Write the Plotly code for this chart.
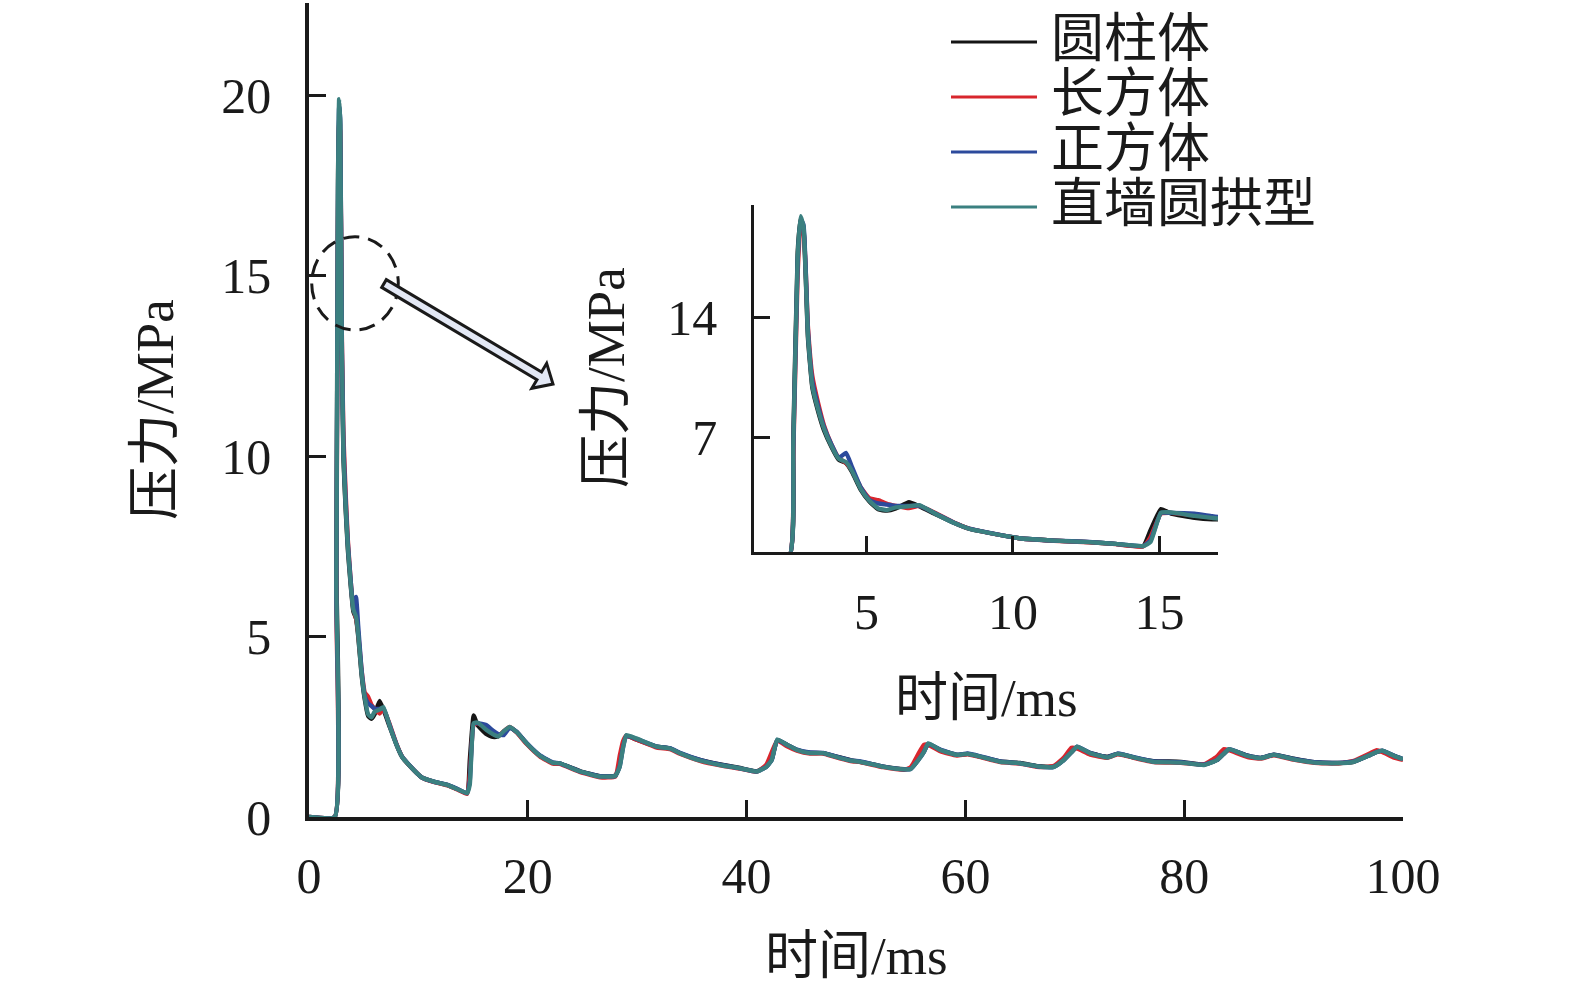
import math
import plotly.graph_objects as go

# ---------------- data ----------------
time_ms = [0, 2.35, 2.5, 2.65, 2.75, 2.85, 3.0, 3.15, 3.35, 3.55,
           3.8, 4.05, 4.3, 4.5, 4.8, 5.1, 5.4, 5.7, 6.0, 6.45,
           6.8, 7.4, 8.0, 8.5, 9.2, 10.3, 11.4, 12.6, 13.5, 14.45,
           14.7, 15.05, 15.4, 16.2, 16.8, 17.3, 17.8, 18.35, 19.0, 19.9,
           21.1, 22.3, 22.9, 24.8, 26.6, 28.0, 28.4, 28.7, 29.0, 29.9,
           31.8, 33.0, 33.9, 35.8, 37.6, 39.4, 40.9, 41.8, 42.3, 42.8,
           43.7, 44.6, 45.8, 47.0, 47.9, 49.5, 50.4, 52.5, 54.4, 55.0,
           55.7, 56.2, 56.6, 57.7, 59.2, 60.2, 61.4, 63.2, 65.0, 66.9,
           68.1, 69.0, 69.7, 70.2, 71.4, 73.0, 73.9, 74.5, 75.4, 77.2,
           79.7, 81.8, 83.0, 83.6, 84.1, 85.8, 87.0, 88.2, 90.0, 91.9,
           94.0, 95.5, 97.0, 97.6, 98.1, 99.2, 100.0]

# 圆柱体
p_cylinder = [0, 0, 7.0, 17.8, 19.8, 19.2, 12.8, 9.9, 8.5, 7.4,
              6.45, 5.7, 5.5, 5.0, 3.95, 3.25, 2.8, 2.72, 2.85, 3.22,
              2.98, 2.48, 2.0, 1.67, 1.42, 1.1, 0.98, 0.89, 0.78, 0.66,
              1.6, 2.82, 2.55, 2.3, 2.22, 2.24, 2.36, 2.48, 2.35, 2.04,
              1.7, 1.5, 1.49, 1.27, 1.13, 1.15, 1.45, 2.0, 2.25, 2.15,
              1.95, 1.9, 1.77, 1.58, 1.46, 1.36, 1.27, 1.4, 1.6, 2.13,
              2.0, 1.86, 1.78, 1.77, 1.7, 1.58, 1.53, 1.4, 1.33, 1.34,
              1.6, 1.82, 2.02, 1.86, 1.72, 1.75, 1.67, 1.54, 1.5, 1.4,
              1.4, 1.59, 1.8, 1.94, 1.77, 1.67, 1.75, 1.72, 1.65, 1.55,
              1.53, 1.45, 1.58, 1.75, 1.87, 1.7, 1.64, 1.73, 1.62, 1.52,
              1.5, 1.53, 1.72, 1.8, 1.83, 1.69, 1.6]

# 长方体
p_cuboid = [0, 0, 5.8, 16.5, 19.2, 19.0, 13.5, 10.6, 9.0, 7.7,
            6.6, 5.8, 5.5, 5.1, 4.1, 3.45, 3.34, 3.12, 3.0, 2.87,
            3.0, 2.55, 2.02, 1.68, 1.42, 1.1, 0.97, 0.88, 0.77, 0.64,
            1.2, 2.55, 2.6, 2.45, 2.32, 2.24, 2.38, 2.5, 2.34, 2.02,
            1.68, 1.48, 1.47, 1.24, 1.1, 1.12, 1.7, 2.1, 2.25, 2.15,
            1.92, 1.88, 1.75, 1.55, 1.43, 1.34, 1.25, 1.45, 1.8, 2.12,
            1.96, 1.84, 1.76, 1.76, 1.68, 1.55, 1.52, 1.38, 1.31, 1.38,
            1.75, 2.0, 2.0, 1.82, 1.7, 1.74, 1.66, 1.52, 1.48, 1.38,
            1.42, 1.65, 1.92, 1.9, 1.73, 1.64, 1.74, 1.71, 1.64, 1.52,
            1.5, 1.46, 1.68, 1.88, 1.85, 1.66, 1.62, 1.71, 1.59, 1.5,
            1.48, 1.56, 1.77, 1.85, 1.8, 1.64, 1.58]

# 正方体
p_cube = [0, 0, 6.2, 17.2, 19.7, 19.4, 13.3, 10.3, 8.8, 7.6,
          6.6, 5.8, 6.1, 5.3, 4.1, 3.35, 3.15, 3.08, 3.0, 3.0,
          3.02, 2.52, 2.01, 1.68, 1.43, 1.1, 0.98, 0.9, 0.79, 0.66,
          1.0, 2.58, 2.6, 2.55, 2.4, 2.3, 2.27, 2.48, 2.36, 2.05,
          1.71, 1.51, 1.49, 1.26, 1.13, 1.14, 1.4, 1.92, 2.25, 2.17,
          1.95, 1.91, 1.78, 1.58, 1.45, 1.35, 1.26, 1.39, 1.58, 2.14,
          2.0, 1.87, 1.79, 1.78, 1.7, 1.57, 1.54, 1.4, 1.32, 1.33,
          1.58, 1.8, 2.03, 1.87, 1.73, 1.76, 1.68, 1.54, 1.49, 1.39,
          1.39, 1.58, 1.8, 1.95, 1.78, 1.66, 1.76, 1.73, 1.66, 1.54,
          1.52, 1.45, 1.58, 1.75, 1.88, 1.7, 1.64, 1.73, 1.61, 1.52,
          1.5, 1.54, 1.72, 1.8, 1.84, 1.7, 1.61]

# 直墙圆拱型
p_arch = [0, 0, 6.5, 17.5, 19.9, 19.3, 13.0, 10.0, 8.6, 7.5,
          6.5, 5.75, 5.55, 5.05, 4.0, 3.3, 2.85, 2.76, 2.92, 2.98,
          3.05, 2.5, 2.0, 1.67, 1.42, 1.1, 0.98, 0.89, 0.78, 0.66,
          0.9, 2.6, 2.62, 2.42, 2.3, 2.23, 2.38, 2.5, 2.35, 2.04,
          1.7, 1.5, 1.49, 1.26, 1.12, 1.14, 1.39, 1.9, 2.27, 2.18,
          1.95, 1.9, 1.77, 1.56, 1.44, 1.35, 1.26, 1.39, 1.58, 2.15,
          2.0, 1.86, 1.77, 1.77, 1.69, 1.56, 1.53, 1.39, 1.32, 1.33,
          1.58, 1.8, 2.04, 1.86, 1.72, 1.75, 1.67, 1.53, 1.49, 1.39,
          1.39, 1.58, 1.8, 1.95, 1.77, 1.65, 1.75, 1.72, 1.65, 1.53,
          1.51, 1.44, 1.58, 1.75, 1.88, 1.69, 1.63, 1.72, 1.6, 1.51,
          1.49, 1.53, 1.72, 1.8, 1.84, 1.69, 1.6]

series_names = ["圆柱体", "长方体", "正方体", "直墙圆拱型"]
series_values = [p_cylinder, p_cuboid, p_cube, p_arch]
series_colors = ["#151515", "#d8262d", "#2c4a9c", "#3b8080"]

main_x_ticks = [0, 20, 40, 60, 80, 100]
main_y_ticks = [0, 5, 10, 15, 20]
inset_x_ticks = [5, 10, 15]
inset_y_ticks = [7, 14]
x_title = "时间/ms"
y_title = "压力/MPa"

# ---------------- layout geometry ----------------
W, H = 1575, 998
ML, MR, MT, MB = 309, 172, 3, 181
PW = W - ML - MR
PH = H - MT - MB
BASE = H - MB


def px(xp):
    return (xp - ML) / PW


def py(yp):
    return (BASE - yp) / PH


FONT = "Liberation Serif, Noto Sans CJK SC, serif"
INK = "#1a1a1a"
LW = 4.3

fig = go.Figure()
for xa, ya in (("x", "y"), ("x2", "y2")):
    for name, vals, col in zip(series_names, series_values, series_colors):
        fig.add_trace(go.Scatter(x=time_ms, y=vals, mode="lines", name=name,
                                 line=dict(color=col, width=LW,
                                           shape="spline", smoothing=0.4),
                                 xaxis=xa, yaxis=ya, showlegend=False))

axis_common = dict(showline=True, linecolor=INK, ticks="inside",
                   tickcolor=INK, showgrid=False, zeroline=False,
                   tickfont=dict(family=FONT, size=50, color=INK),
                   fixedrange=True)

fig.update_layout(
    width=W, height=H,
    margin=dict(l=ML, r=MR, t=MT, b=MB, pad=0),
    paper_bgcolor="white", plot_bgcolor="white",
    showlegend=False,
    font=dict(family=FONT, color=INK),
    xaxis=dict(domain=[0, 1], range=[0, 100], tickvals=main_x_ticks,
               linewidth=3.5, ticklen=17, tickwidth=2.5, anchor="y",
               ticklabelstandoff=12, **axis_common),
    yaxis=dict(domain=[0, 1], range=[0, (BASE - MT) / 36.07],
               tickvals=main_y_ticks, linewidth=3.5, ticklen=17,
               tickwidth=3, anchor="x", ticklabelstandoff=24,
               **axis_common),
    xaxis2=dict(domain=[px(754.3), px(1218)], range=[1.17, 17.0],
                tickvals=inset_x_ticks, linewidth=3, ticklen=16,
                tickwidth=3, anchor="y2", ticklabelstandoff=14,
                **axis_common),
    yaxis2=dict(domain=[py(551.7), py(205)], range=[0.33, 20.55],
                tickvals=inset_y_ticks, linewidth=3, ticklen=16,
                tickwidth=3, anchor="x2", ticklabelstandoff=24,
                **axis_common),
)

annotations = []
title_font = dict(family=FONT, size=53, color=INK)
annotations.append(dict(text=x_title, xref="paper", yref="paper",
                        x=px(856), y=py(956), xanchor="center",
                        yanchor="middle", showarrow=False, font=title_font))
annotations.append(dict(text=y_title, xref="paper", yref="paper",
                        x=px(155), y=py(410), xanchor="center",
                        yanchor="middle", showarrow=False, textangle=-90,
                        font=title_font))
annotations.append(dict(text=x_title, xref="paper", yref="paper",
                        x=px(986), y=py(698), xanchor="center",
                        yanchor="middle", showarrow=False, font=title_font))
annotations.append(dict(text=y_title, xref="paper", yref="paper",
                        x=px(606), y=py(378), xanchor="center",
                        yanchor="middle", showarrow=False, textangle=-90,
                        font=title_font))

shapes = []
# hand-drawn legend
leg_rows = [42, 97, 152, 207]
for name, col, yrow in zip(series_names, series_colors, leg_rows):
    shapes.append(dict(type="line", xref="paper", yref="paper",
                       x0=px(951), x1=px(1037), y0=py(yrow), y1=py(yrow),
                       line=dict(color=col, width=3)))
    annotations.append(dict(text=name, xref="paper", yref="paper",
                            x=px(1049), y=py(yrow - 3), xanchor="left",
                            yanchor="middle", showarrow=False,
                            font=dict(family=FONT, size=53, color=INK)))

# dashed circle around the peak
shapes.append(dict(type="circle", xref="paper", yref="paper",
                   x0=px(311.7), x1=px(398.3), y0=py(330), y1=py(236.7),
                   line=dict(color=INK, width=3, dash="16px,9px")))

# block arrow from the circle to the inset
sx, sy = 384.0, 283.5
tx, ty = 553.0, 384.0
L = math.hypot(tx - sx, ty - sy)
ux, uy = (tx - sx) / L, (ty - sy) / L
nx, ny = -uy, ux
hw, hh, hl = 4.5, 14.5, 16.0
hx, hy = tx - hl * ux, ty - hl * uy
pts = [(sx + hw * nx, sy + hw * ny), (hx + hw * nx, hy + hw * ny),
       (hx + hh * nx, hy + hh * ny), (tx, ty),
       (hx - hh * nx, hy - hh * ny), (hx - hw * nx, hy - hw * ny),
       (sx - hw * nx, sy - hw * ny)]
path = "M " + " L ".join(f"{px(a):.5f},{py(b):.5f}" for a, b in pts) + " Z"
shapes.append(dict(type="path", xref="paper", yref="paper", path=path,
                   fillcolor="#e3e8f5", line=dict(color=INK, width=3)))

fig.update_layout(annotations=annotations, shapes=shapes)
fig.write_html("out.html")
